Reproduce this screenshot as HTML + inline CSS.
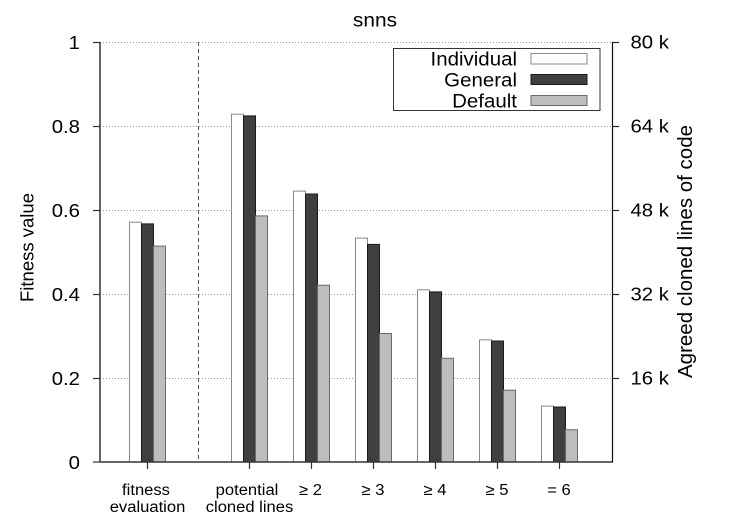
<!DOCTYPE html>
<html>
<head>
<meta charset="utf-8">
<style>
  html,body{margin:0;padding:0;background:#fff;}
  svg{display:block;}
  text{font-family:"Liberation Sans",Arial,sans-serif;fill:#000;}
</style>
</head>
<body>
<svg width="750" height="525" viewBox="0 0 750 525" xmlns="http://www.w3.org/2000/svg">
  <!-- gridlines -->
  <g stroke="#9a9a9a" stroke-width="1" stroke-dasharray="1,2">
    <line x1="100" y1="42.5" x2="612" y2="42.5"/>
    <line x1="100" y1="126.5" x2="612" y2="126.5"/>
    <line x1="100" y1="210.5" x2="612" y2="210.5"/>
    <line x1="100" y1="294.5" x2="612" y2="294.5"/>
    <line x1="100" y1="378.5" x2="612" y2="378.5"/>
  </g>
  <line x1="198.5" y1="42" x2="198.5" y2="462" stroke="#555" stroke-width="1" stroke-dasharray="4,3"/>

  <!-- bars: white, dark, gray; width 12 -->
  <g stroke-width="1">
    <!-- fitness evaluation c=147.5 -->
    <rect x="129.5" y="222.2" width="12" height="239.8" fill="#fff" stroke="#8a8a8a"/>
    <rect x="141.5" y="223.9" width="12" height="238.1" fill="#404040" stroke="#1a1a1a"/>
    <rect x="153.5" y="246.1" width="12" height="215.9" fill="#bdbdbd" stroke="#6a6a6a"/>
    <!-- potential c=249.5 -->
    <rect x="231.5" y="114.2" width="12" height="347.8" fill="#fff" stroke="#8a8a8a"/>
    <rect x="243.5" y="115.9" width="12" height="346.1" fill="#404040" stroke="#1a1a1a"/>
    <rect x="255.5" y="215.9" width="12" height="246.1" fill="#bdbdbd" stroke="#6a6a6a"/>
    <!-- >=2 c=311.5 -->
    <rect x="293.5" y="191.1" width="12" height="270.9" fill="#fff" stroke="#8a8a8a"/>
    <rect x="305.5" y="194.0" width="12" height="268.0" fill="#404040" stroke="#1a1a1a"/>
    <rect x="317.5" y="285.2" width="12" height="176.8" fill="#bdbdbd" stroke="#6a6a6a"/>
    <!-- >=3 c=373.5 -->
    <rect x="355.5" y="238.1" width="12" height="223.9" fill="#fff" stroke="#8a8a8a"/>
    <rect x="367.5" y="244.4" width="12" height="217.6" fill="#404040" stroke="#1a1a1a"/>
    <rect x="379.5" y="333.5" width="12" height="128.5" fill="#bdbdbd" stroke="#6a6a6a"/>
    <!-- >=4 c=435.5 -->
    <rect x="417.5" y="289.8" width="12" height="172.2" fill="#fff" stroke="#8a8a8a"/>
    <rect x="429.5" y="291.9" width="12" height="170.1" fill="#404040" stroke="#1a1a1a"/>
    <rect x="441.5" y="358.3" width="12" height="103.7" fill="#bdbdbd" stroke="#6a6a6a"/>
    <!-- >=5 c=497.5 -->
    <rect x="479.5" y="339.8" width="12" height="122.2" fill="#fff" stroke="#8a8a8a"/>
    <rect x="491.5" y="341.0" width="12" height="121.0" fill="#404040" stroke="#1a1a1a"/>
    <rect x="503.5" y="390.2" width="12" height="71.8" fill="#bdbdbd" stroke="#6a6a6a"/>
    <!-- =6 c=559.5 -->
    <rect x="541.5" y="406.1" width="12" height="55.9" fill="#fff" stroke="#8a8a8a"/>
    <rect x="553.5" y="407.0" width="12" height="55.0" fill="#404040" stroke="#1a1a1a"/>
    <rect x="565.5" y="429.7" width="12" height="32.3" fill="#bdbdbd" stroke="#6a6a6a"/>
  </g>

  <!-- axes -->
  <g stroke="#333" stroke-width="1.5" fill="none">
    <line x1="100" y1="42" x2="100" y2="462.5"/>
    <line x1="99.5" y1="462" x2="612.5" y2="462"/>
  </g>
  <line x1="612.5" y1="42" x2="612.5" y2="462.5" stroke="#111" stroke-width="1.2"/>
  <!-- left ticks -->
  <g stroke="#333" stroke-width="1.2">
    <line x1="93" y1="42.5" x2="100" y2="42.5"/>
    <line x1="93" y1="126.5" x2="100" y2="126.5"/>
    <line x1="93" y1="210.5" x2="100" y2="210.5"/>
    <line x1="93" y1="294.5" x2="100" y2="294.5"/>
    <line x1="93" y1="378.5" x2="100" y2="378.5"/>
    <line x1="93" y1="462" x2="100" y2="462"/>
  </g>
  <!-- right ticks -->
  <g stroke="#222" stroke-width="1.2">
    <line x1="612" y1="42.5" x2="619" y2="42.5"/>
    <line x1="612" y1="126.5" x2="619" y2="126.5"/>
    <line x1="612" y1="210.5" x2="619" y2="210.5"/>
    <line x1="612" y1="294.5" x2="619" y2="294.5"/>
    <line x1="612" y1="378.5" x2="619" y2="378.5"/>
  </g>
  <!-- bottom ticks -->
  <g stroke="#333" stroke-width="1.2">
    <line x1="147.5" y1="462" x2="147.5" y2="469"/>
    <line x1="249.5" y1="462" x2="249.5" y2="469"/>
    <line x1="311.5" y1="462" x2="311.5" y2="469"/>
    <line x1="373.5" y1="462" x2="373.5" y2="469"/>
    <line x1="435.5" y1="462" x2="435.5" y2="469"/>
    <line x1="497.5" y1="462" x2="497.5" y2="469"/>
    <line x1="559.5" y1="462" x2="559.5" y2="469"/>
  </g>

  <!-- title -->
  <text transform="translate(375,26.5) scale(1.1,1)" text-anchor="middle" font-size="19">snns</text>

  <!-- left tick labels -->
  <g font-size="18.5" text-anchor="end">
    <text transform="translate(80,49) scale(1.1,1)">1</text>
    <text transform="translate(80,133) scale(1.1,1)">0.8</text>
    <text transform="translate(80,217) scale(1.1,1)">0.6</text>
    <text transform="translate(80,301) scale(1.1,1)">0.4</text>
    <text transform="translate(80,385) scale(1.1,1)">0.2</text>
    <text transform="translate(80,469) scale(1.1,1)">0</text>
  </g>
  <!-- right tick labels -->
  <g font-size="18.5" text-anchor="start">
    <text transform="translate(630.5,48.5) scale(1.1,1)">80 k</text>
    <text transform="translate(630.5,132.5) scale(1.1,1)">64 k</text>
    <text transform="translate(630.5,216.5) scale(1.1,1)">48 k</text>
    <text transform="translate(630.5,300.5) scale(1.1,1)">32 k</text>
    <text transform="translate(630.5,384.5) scale(1.1,1)">16 k</text>
  </g>

  <!-- axis titles -->
  <text transform="translate(33.5,247.5) rotate(-90)" text-anchor="middle" font-size="18.5">Fitness value</text>
  <text transform="translate(692,251.5) rotate(-90)" text-anchor="middle" font-size="20.5">Agreed cloned lines of code</text>

  <!-- bottom labels -->
  <g font-size="15.5" text-anchor="middle">
    <text transform="translate(146,495) scale(1.07,1)">fitness</text>
    <text transform="translate(147.5,512) scale(1.07,1)">evaluation</text>
    <text transform="translate(247,495) scale(1.07,1)">potential</text>
    <text transform="translate(249.5,512) scale(1.07,1)">cloned lines</text>
    <text transform="translate(310.5,495) scale(1.07,1)">≥ 2</text>
    <text transform="translate(373,495) scale(1.07,1)">≥ 3</text>
    <text transform="translate(435,495) scale(1.07,1)">≥ 4</text>
    <text transform="translate(497,495) scale(1.07,1)">≥ 5</text>
    <text transform="translate(559,495) scale(1.07,1)">= 6</text>
  </g>

  <!-- legend -->
  <rect x="393.5" y="48.5" width="206.5" height="62" fill="#fff" stroke="#333" stroke-width="1"/>
  <g font-size="19.5" text-anchor="end">
    <text transform="translate(517,65.5) scale(1.05,1)">Individual</text>
    <text transform="translate(517,86.5) scale(1.05,1)">General</text>
    <text transform="translate(517,107.5) scale(1.05,1)">Default</text>
  </g>
  <rect x="531" y="53.5" width="56" height="10.5" fill="#fff" stroke="#8a8a8a"/>
  <rect x="531" y="74.5" width="56" height="10" fill="#404040" stroke="#1a1a1a"/>
  <rect x="531" y="95.5" width="56" height="10" fill="#bdbdbd" stroke="#6a6a6a"/>
</svg>
</body>
</html>
